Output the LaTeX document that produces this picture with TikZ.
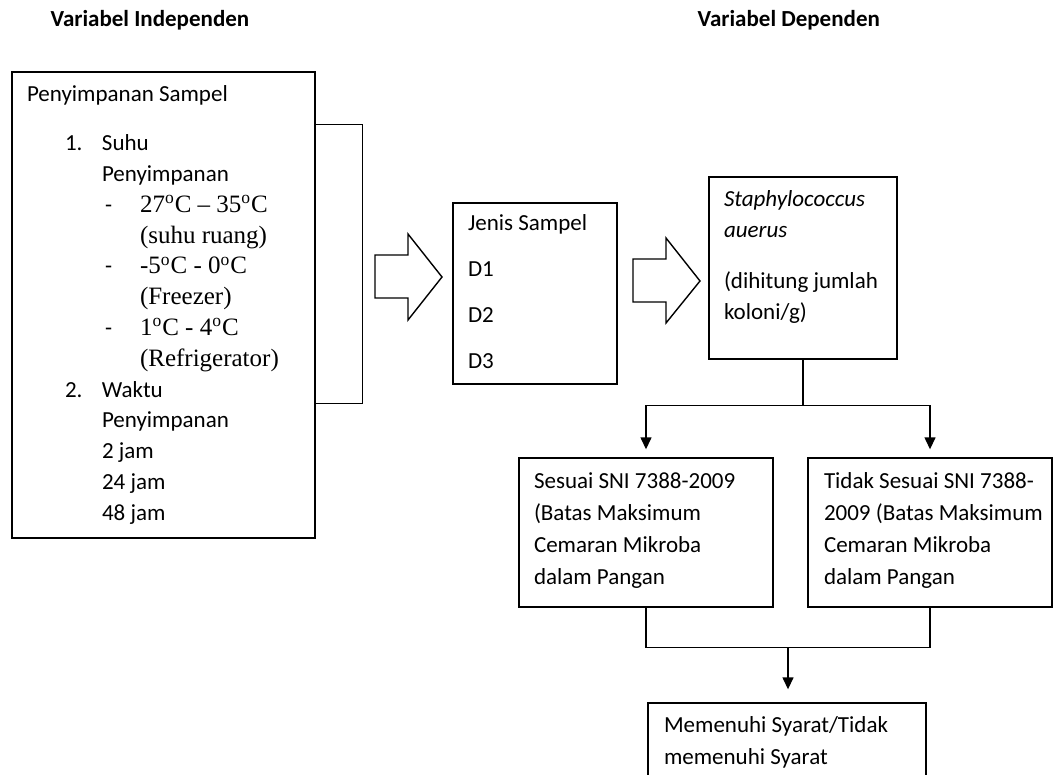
\documentclass[tikz,border=0pt]{standalone}
\usepackage{fontspec}
\setmainfont{Carlito}
\newfontfamily\timesfont{Liberation Serif}
\usetikzlibrary{calc,arrows.meta}

\newcommand{\tnr}[1]{{\timesfont\fontsize{12.5}{15.4}\selectfont #1}}
\newcommand{\dg}{\textsuperscript{o}C}

\begin{document}
\begin{tikzpicture}[x=0.5pt,y=-0.5pt,line width=0.7pt,
  box/.style={draw,inner sep=0pt},
  boxtext/.style={anchor=north west,inner sep=0pt,align=left,font=\fontsize{11.5}{15.4}\selectfont},
  heading/.style={anchor=west,inner sep=0pt,font=\bfseries\fontsize{11.5}{14}\selectfont},
  arr/.style={-{Triangle[length=6pt,width=5.5pt]},shorten >=4pt}]
\useasboundingbox (0,0) rectangle (1054,775);
\clip (0,0) rectangle (1054,775);
%\draw[help lines] (0,0) grid (1054,775);

\node[heading] (indeplabel) at (50,20) {Variabel Independen};
\node[heading] (deplabel) at (697,20) {Variabel Dependen};

% left box
\node[box,minimum width=151.5pt,minimum height=233pt] (indep) at (163.5,305) {};
\node[boxtext] (indeptext) at ($(indep.north west)+(15,14)$) {Penyimpanan Sampel\\[9pt]
\hspace*{19pt}\makebox[18.5pt][l]{1.}Suhu\\
\hspace*{37.5pt}Penyimpanan\\
\hspace*{39pt}\makebox[17.5pt][l]{-}\tnr{27\dg{} \textendash{} 35\dg}\\
\hspace*{56.5pt}\tnr{(suhu ruang)}\\
\hspace*{39pt}\makebox[17.5pt][l]{-}\tnr{-5\dg{} - 0\dg}\\
\hspace*{56.5pt}\tnr{(Freezer)}\\
\hspace*{39pt}\makebox[17.5pt][l]{-}\tnr{1\dg{} - 4\dg}\\
\hspace*{56.5pt}\tnr{(Refrigerator)}\\
\hspace*{19pt}\makebox[18.5pt][l]{2.}Waktu\\
\hspace*{37.5pt}Penyimpanan\\
\hspace*{37.5pt}2 jam\\
\hspace*{37.5pt}24 jam\\
\hspace*{37.5pt}48 jam};
\draw ($(indep.north east)+(0,53)$) -- ++(47,0) |- ($(indep.south east)+(0,-135)$);

% block arrows
\draw (375,255) -- (408,255) -- (408,234) -- (442,277) -- (408,320) -- (408,298) -- (375,298) -- cycle;
\draw (633,259) -- (666,259) -- (666,238) -- (700,281) -- (666,323) -- (666,302) -- (633,302) -- cycle;

\node[box,minimum width=82pt,minimum height=90.5pt] (jenis) at (535,293.5) {};
\node[boxtext] (jenistext) at ($(jenis.north west)+(15,12)$) {Jenis Sampel\\[7.5pt] D1\\[7.5pt] D2\\[7.5pt] D3};

\node[box,minimum width=94pt,minimum height=91pt] (staph) at (803,268) {};
\node[boxtext] (staphtext) at ($(staph.north west)+(15,14)$) {\textit{Staphylococcus}\\ \textit{auerus}\\[10pt] (dihitung jumlah\\ koloni/g)};

% result boxes
\node[box,minimum width=127pt,minimum height=74.5pt] (sni) at (646,532.5) {};
\node[boxtext,font=\fontsize{11.5}{16}\selectfont] (snitext) at ($(sni.north west)+(15,15)$) {Sesuai SNI 7388-2009\\ (Batas Maksimum\\ Cemaran Mikroba\\ dalam Pangan};
\node[box,minimum width=122pt,minimum height=74.5pt] (tidak) at (930,532.5) {};
\node[boxtext,font=\fontsize{11.5}{16}\selectfont] (tidaktext) at ($(tidak.north west)+(16,15)$) {Tidak Sesuai SNI 7388-\\ 2009 (Batas Maksimum\\ Cemaran Mikroba\\ dalam Pangan};

\node[box,minimum width=139pt,minimum height=50pt] (hasil) at (787,753) {};
\node[boxtext,font=\fontsize{11.5}{16}\selectfont] (hasiltext) at ($(hasil.north west)+(16,14)$) {Memenuhi Syarat/Tidak\\ memenuhi Syarat};

\draw (staph.south) -- ++(0,46) coordinate (split);
\draw[arr] (split) -| (sni.north);
\draw[arr] (split) -| (tidak.north);
\draw (sni.south) -- ++(0,40) -| (tidak.south);
\coordinate (merge) at ($(sni.south)!0.5!(tidak.south)+(0,40)$);
\draw[arr,shorten >=6.5pt] (merge) -- (merge |- hasil.north);
\end{tikzpicture}
\end{document}
